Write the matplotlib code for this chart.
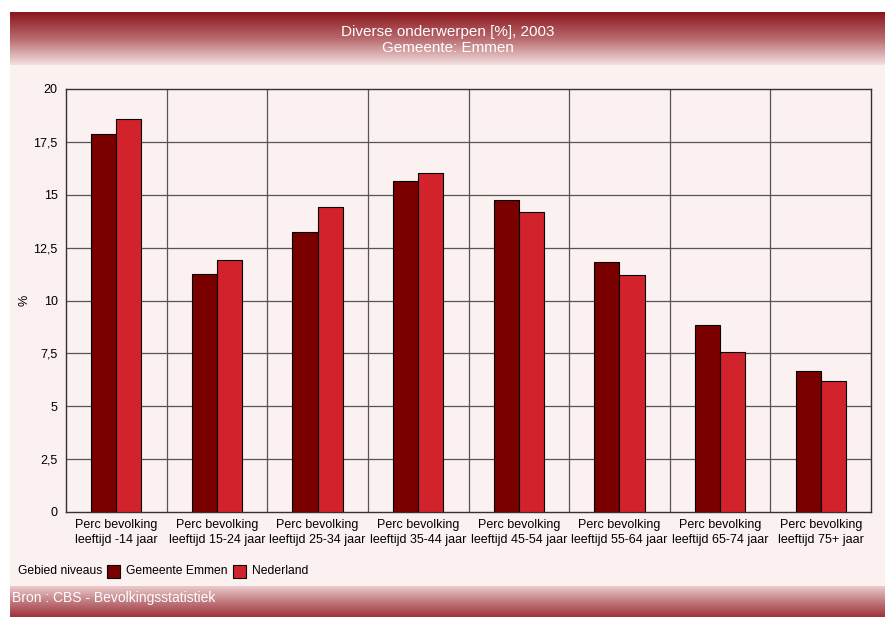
import numpy as np
import matplotlib
matplotlib.use("Agg")
import matplotlib.pyplot as plt
from matplotlib.patches import Rectangle
from matplotlib.colors import LinearSegmentedColormap

plt.rcParams['font.family'] = ['Liberation Sans', 'DejaVu Sans']

categories = ["Perc bevolking\nleeftijd -14 jaar", "Perc bevolking\nleeftijd 15-24 jaar",
              "Perc bevolking\nleeftijd 25-34 jaar", "Perc bevolking\nleeftijd 35-44 jaar",
              "Perc bevolking\nleeftijd 45-54 jaar", "Perc bevolking\nleeftijd 55-64 jaar",
              "Perc bevolking\nleeftijd 65-74 jaar", "Perc bevolking\nleeftijd 75+ jaar"]
emmen = [17.85, 11.25, 13.25, 15.65, 14.75, 11.8, 8.85, 6.65]
nederland = [18.6, 11.9, 14.4, 16.05, 14.2, 11.2, 7.55, 6.2]
yticks = [0, 2.5, 5, 7.5, 10, 12.5, 15, 17.5, 20]
ytick_labels = ["0", "2,5", "5", "7,5", "10", "12,5", "15", "17,5", "20"]

W, H = 885, 617
fig = plt.figure(figsize=(W / 100, H / 100), dpi=100)
fig.patch.set_facecolor("white")

def fx(px):
    return px / W

def fy(py):
    return 1 - py / H

# panel background
fig.patches.append(Rectangle((fx(10), 0), fx(875), fy(12), transform=fig.transFigure,
                             facecolor="#faf1f0", edgecolor="none", zorder=-5))

# header gradient
hdr = fig.add_axes([fx(10), fy(65), fx(875), (65 - 12) / H])
cm_h = LinearSegmentedColormap.from_list("h", ["#8a161c", "#b86a6e", "#f3dfdf"])
hdr.imshow(np.linspace(0, 1, 100).reshape(-1, 1), aspect="auto", cmap=cm_h,
           extent=[0, 1, 0, 1])
hdr.axis("off")
hdr.text(0.5, 0.62, "Diverse onderwerpen [%], 2003", color="white", fontsize=11,
         ha="center", va="center", transform=hdr.transAxes)
hdr.text(0.5, 0.33, "Gemeente: Emmen", color="white", fontsize=11,
         ha="center", va="center", transform=hdr.transAxes)

# footer gradient
ftr = fig.add_axes([fx(10), 0, fx(875), (617 - 586) / H])
cm_f = LinearSegmentedColormap.from_list("f", ["#ebcaca", "#c07b80", "#a0343b"])
ftr.imshow(np.linspace(0, 1, 100).reshape(-1, 1), aspect="auto", cmap=cm_f,
           extent=[0, 1, 0, 1])
ftr.axis("off")
ftr.text(fx(2) / fx(875), 0.62, "Bron : CBS - Bevolkingsstatistiek", color="white",
         fontsize=10, ha="left", va="center", transform=ftr.transAxes)

# main chart
ax = fig.add_axes([fx(66), fy(512), fx(871 - 66), (512 - 89) / H])
ax.set_facecolor("#faf1f0")
x = np.arange(len(categories))
w = 0.25
ax.bar(x - w / 2, emmen, w, color="#7a0000", edgecolor="black", linewidth=0.8, zorder=3)
ax.bar(x + w / 2, nederland, w, color="#d2232c", edgecolor="black", linewidth=0.8, zorder=3)
ax.set_xlim(-0.5, len(categories) - 0.5)
ax.set_ylim(0, 20)
ax.set_yticks(yticks)
ax.set_yticklabels(ytick_labels, fontsize=9)
ax.set_xticks(x)
ax.set_xticklabels(categories, fontsize=9, linespacing=1.3)
ax.tick_params(axis="x", length=0, pad=5)
ax.tick_params(axis="y", length=0, pad=6)
for v in yticks[1:-1]:
    ax.axhline(v, color="#555555", linewidth=0.9, zorder=1)
for b in np.arange(0.5, len(categories) - 0.5):
    ax.axvline(b, color="#555555", linewidth=0.9, zorder=1)
for s in ax.spines.values():
    s.set_color("#333333")
    s.set_linewidth(1.0)
fig.text(fx(25), fy(300), "%", rotation=90, fontsize=9, ha="center", va="center")

# legend
ly = fy(571)
fig.text(fx(18), ly, "Gebied niveaus", fontsize=8.7, ha="left", va="center")
fig.patches.append(Rectangle((fx(107), fy(578)), fx(13), 13 / H, transform=fig.transFigure,
                             facecolor="#7a0000", edgecolor="black", linewidth=0.8))
fig.text(fx(126), ly, "Gemeente Emmen", fontsize=8.7, ha="left", va="center")
fig.patches.append(Rectangle((fx(233), fy(578)), fx(13), 13 / H, transform=fig.transFigure,
                             facecolor="#d2232c", edgecolor="black", linewidth=0.8))
fig.text(fx(252), ly, "Nederland", fontsize=8.7, ha="left", va="center")

fig.savefig("out.png", dpi=100, facecolor=fig.get_facecolor())
